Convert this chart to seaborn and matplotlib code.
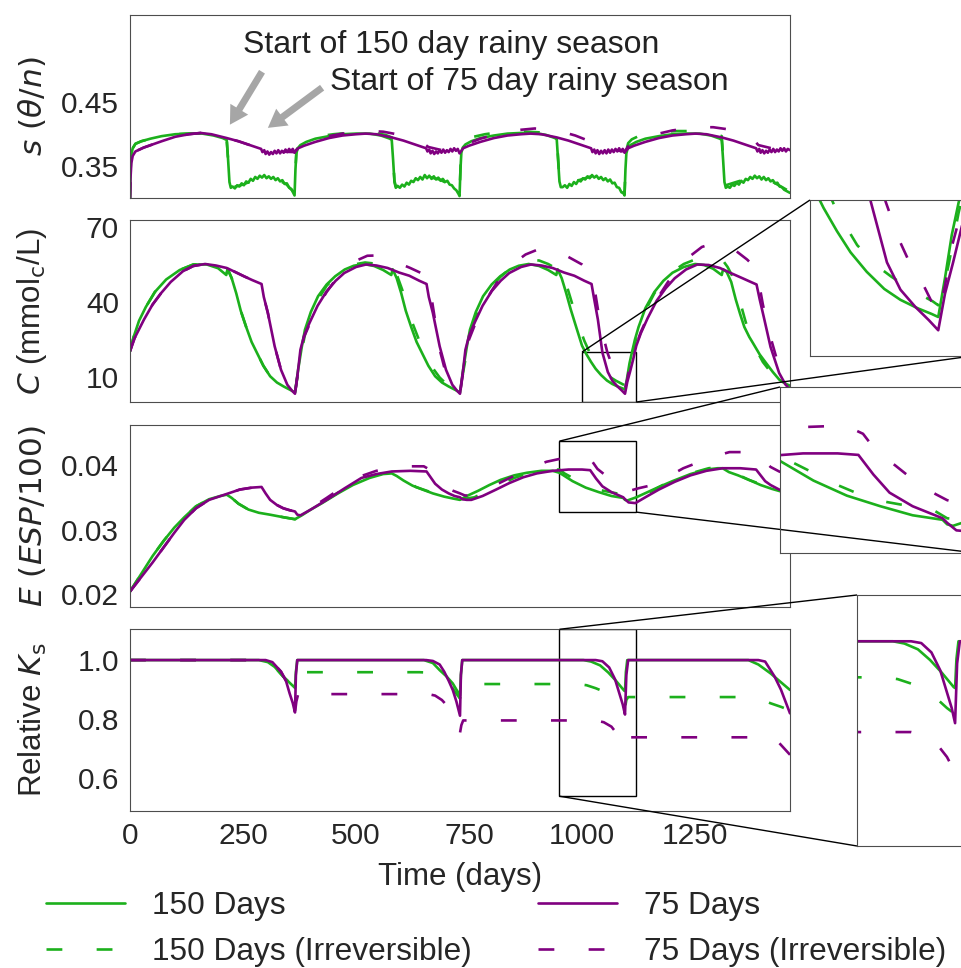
import matplotlib
matplotlib.use("Agg")
import matplotlib.pyplot as plt
import seaborn as sns
from mpl_toolkits.axes_grid1.inset_locator import mark_inset

# ---------------- relative saturation s ----------------
s_g_day = [0, 1, 3, 6, 12, 25, 45, 70, 100, 130, 160, 185, 205, 214, 217, 220, 223,
           227, 232, 237, 242, 247, 252, 257, 262, 267, 272, 277, 282, 287, 292, 297, 302,
           307, 312, 317, 322, 327, 332, 337, 342, 347, 352, 357, 362, 364,
           366, 368, 371, 377, 390, 410, 440, 470, 500, 530, 555, 575, 579, 582, 585, 588,
           592, 597, 602, 607, 612, 617, 622, 627, 632, 637, 642, 647, 652, 657, 662, 667,
           672, 677, 682, 687, 692, 697, 702, 707, 712, 717, 722, 727, 729,
           731, 733, 736, 742, 755, 775, 805, 835, 865, 895, 920, 940, 944, 947, 950, 953,
           957, 962, 967, 972, 977, 982, 987, 992, 997, 1002, 1007, 1012, 1017, 1022, 1027,
           1032, 1037, 1042, 1047, 1052, 1057, 1062, 1067, 1072, 1077, 1082, 1087, 1092, 1094,
           1096, 1098, 1101, 1107, 1120, 1140, 1170, 1200, 1230, 1260, 1285, 1305, 1309, 1312,
           1315, 1318,
           1322, 1327, 1332, 1337, 1342, 1347, 1352, 1357, 1362, 1367, 1372, 1377, 1382, 1387,
           1392, 1397, 1402, 1407, 1412, 1417, 1422, 1427, 1432, 1437, 1442, 1447, 1452, 1457, 1460]
s_g = [.300, .340, .368, .378, .385, .389, .393, .397, .400, .401, .401, .398, .394, .391, .360, .325, .316,
       .318, .315, .320, .318, .323, .320, .326, .324, .330, .327, .333, .330, .335, .332, .336, .331,
       .334, .330, .333, .328, .331, .326, .328, .322, .323, .316, .314, .307, .304,
       .345, .370, .378, .383, .388, .393, .397, .400, .401, .401, .398, .393, .391, .360, .325, .316,
       .319, .316, .321, .318, .324, .321, .327, .325, .331, .328, .333, .329, .336, .331, .335, .330,
       .334, .329, .332, .327, .330, .325, .327, .321, .320, .315, .312, .306, .303,
       .345, .371, .379, .384, .389, .394, .398, .401, .402, .402, .399, .394, .392, .360, .326, .317,
       .317, .320, .316, .322, .319, .325, .322, .328, .326, .331, .329, .334, .331, .336, .332,
       .335, .330, .333, .328, .331, .326, .329, .323, .324, .317, .316, .309, .307, .304,
       .345, .370, .378, .383, .388, .393, .397, .400, .401, .401, .398, .393, .391, .360,
       .325, .316,
       .318, .316, .321, .319, .324, .321, .327, .324, .330, .328, .333, .330, .335, .331,
       .334, .329, .333, .328, .331, .326, .328, .323, .324, .318, .317, .313, .311, .309, .308]

s_gi_day = [0, 1, 3, 6, 12, 25, 45, 70, 100, 130, 160, 185, 205, 214, 217, 220, 223, 250, 290, 320, 345, 360, 364,
            366, 368, 372, 380, 395, 420, 450, 480, 510, 540, 565, 579, 582, 585, 588, 615, 655, 685, 710, 725, 729,
            731, 733, 737, 745, 760, 785, 815, 845, 875, 905, 930, 944, 947, 950, 953, 980, 1020, 1050, 1075, 1090, 1094,
            1096, 1098, 1102, 1110, 1125, 1150, 1180, 1210, 1240, 1270, 1295, 1309, 1312, 1315, 1318, 1345, 1385, 1415, 1440, 1460]
s_gi = [.300, .340, .368, .378, .385, .389, .393, .397, .400, .401, .401, .398, .394, .391, .360, .325, .316, .321, .333, .331, .322, .311, .305,
        .345, .372, .382, .388, .393, .397, .400, .402, .403, .402, .399, .395, .362, .327, .318, .324, .334, .329, .320, .312, .305,
        .346, .374, .385, .391, .396, .400, .403, .404, .404, .403, .400, .396, .363, .328, .319, .325, .334, .329, .320, .312, .306,
        .347, .375, .386, .392, .397, .401, .404, .405, .405, .404, .401, .397, .364, .329, .320, .326, .334, .328, .318, .310]

s_p_day = [0, 1, 3, 6, 12, 30, 50, 70, 100, 130, 156, 180, 214, 240, 265, 290,
           293, 297, 300, 304, 308, 312, 316, 320, 324, 328, 332, 336, 340, 344, 348, 352, 356, 360, 364,
           366, 372, 385, 410, 440, 470, 500, 521, 545, 579, 605, 630, 655,
           658, 662, 665, 669, 673, 677, 681, 685, 689, 693, 697, 701, 705, 709, 713, 717, 721, 725, 729,
           731, 737, 750, 775, 805, 835, 865, 886, 910, 944, 970, 995, 1020,
           1023, 1027, 1030, 1034, 1038, 1042, 1046, 1050, 1054, 1058, 1062, 1066, 1070, 1074, 1078, 1082, 1086, 1090, 1094,
           1096, 1102, 1115, 1140, 1170, 1200, 1230, 1251, 1275, 1309, 1335, 1360, 1385,
           1388, 1392, 1395, 1399, 1403, 1407, 1411, 1415, 1419, 1423, 1427, 1431, 1435, 1439, 1443, 1447, 1451, 1455, 1460]
s_p = [.300, .330, .355, .366, .373, .379, .384, .389, .396, .400, .402, .400, .394, .389, .383, .377,
       .372, .375, .369, .373, .368, .372, .369, .374, .370, .375, .370, .374, .371, .376, .372, .377, .373, .377, .371,
       .373, .378, .382, .388, .394, .398, .400, .401, .400, .395, .390, .384, .378,
       .373, .376, .370, .374, .369, .373, .370, .375, .371, .376, .371, .375, .372, .377, .373, .378, .374, .377, .370,
       .372, .378, .382, .388, .394, .398, .400, .401, .400, .395, .390, .384, .378,
       .372, .376, .370, .375, .369, .374, .370, .375, .370, .376, .371, .376, .372, .377, .373, .378, .373, .377, .371,
       .373, .378, .382, .388, .394, .398, .400, .401, .400, .395, .390, .384, .378,
       .373, .377, .371, .375, .370, .374, .371, .376, .372, .377, .372, .376, .373, .378, .374, .378, .373, .377, .375]

s_pi_day = [0, 1, 3, 6, 12, 30, 50, 70, 100, 130, 156, 180, 214, 240, 265, 290, 320, 364,
            366, 372, 385, 410, 440, 470, 500, 530, 560, 590, 620, 645, 660, 690, 729,
            731, 737, 750, 775, 805, 835, 865, 895, 925, 955, 985, 1010, 1025, 1060, 1094,
            1096, 1102, 1115, 1140, 1170, 1200, 1230, 1260, 1290, 1320, 1350, 1375, 1390, 1425, 1460]
s_pi = [.300, .330, .355, .366, .373, .379, .384, .389, .396, .400, .402, .400, .394, .389, .383, .377, .373, .372,
        .374, .379, .384, .391, .397, .401, .404, .405, .404, .400, .394, .388, .380, .375, .373,
        .374, .380, .386, .393, .399, .404, .407, .409, .408, .404, .398, .391, .381, .376, .373,
        .375, .381, .388, .395, .401, .406, .409, .411, .411, .408, .402, .395, .383, .377, .376]

# ---------------- salt concentration C ----------------
c_g_day = [0, 8, 20, 35, 55, 80, 110, 140, 170, 195, 213, 216, 225, 235, 245, 257, 269, 281, 295, 310,
           325, 340, 355, 365,
           372, 380, 387, 400, 416, 435, 454, 475, 495, 517, 540, 560, 578, 581, 590, 600, 610, 622,
           634, 646, 660, 675, 690, 705, 720, 730,
           737, 745, 752, 765, 781, 800, 819, 840, 860, 882, 905, 925, 943, 946, 955, 965, 975, 987,
           1000, 1010, 1020, 1030, 1042, 1055, 1067, 1080, 1090, 1095,
           1100, 1105, 1110, 1117, 1125, 1140, 1160, 1180, 1200, 1225, 1250, 1270, 1290, 1305, 1309,
           1312, 1320, 1330, 1340, 1350, 1359, 1370, 1378, 1393, 1407, 1422, 1436, 1448, 1460]
c_g = [20.3, 26, 32.5, 38, 44, 49, 52.8, 55, 55, 53.5, 50.8, 53.2, 49.5, 43.5, 36.5, 30, 24, 19.6, 14.5, 10.3,
       7.8, 6.2, 4.8, 3.8,
       13, 22, 28.9, 36, 42.3, 47, 50.3, 53, 54.5, 55.2, 54.4, 52.8, 50.8, 53.1, 49.5, 43.5, 36.5, 30,
       24, 19.6, 14.5, 10.3, 7.8, 6.2, 4.8, 3.8,
       13, 22, 28.9, 36, 42.3, 47, 50.3, 53, 54.5, 55.2, 54.4, 52.8, 50.8, 53.1, 49.5, 43.5, 37, 30,
       22.5, 19, 16, 13.3, 10.8, 8.6, 7.2, 6.1, 5.4, 5.0,
       10, 15.5, 19.6, 25, 30, 37.5, 44, 48.5, 51.7, 54, 55.2, 54.8, 53.3, 51.3, 50.8,
       53.1, 52, 48, 41, 35, 30, 26, 23.6, 19, 15.6, 12, 9, 7.5, 6.5]

c_gi_day = c_g_day[:24] + [
    372, 380, 387, 400, 416, 435, 454, 475, 495, 520, 540, 560, 580, 584, 592, 602, 612, 625, 640, 655,
    670, 685, 700, 715, 730,
    737, 745, 752, 765, 781, 800, 819, 840, 860, 885, 905, 925, 945, 949, 957, 967, 977, 990, 1005, 1020,
    1035, 1050, 1060, 1075, 1091, 1095,
    1100, 1103, 1110, 1117, 1125, 1140, 1160, 1180, 1200, 1225, 1250, 1270, 1290, 1310, 1314, 1322, 1332,
    1342, 1352, 1362, 1372, 1385, 1400, 1415, 1430, 1445, 1460]
c_gi = c_g[:24] + [
    12, 20.5, 27, 34.5, 41, 46.5, 50, 53, 55, 55.8, 55.4, 54, 52, 53.5, 50, 45, 39, 31.5, 24.5, 18.5,
    13.5, 9.8, 7.2, 5.4, 4.2,
    12, 20, 26.5, 34, 40.5, 46, 50, 53.2, 55.5, 56.8, 56.6, 55.2, 53.2, 54.5, 51, 46, 40, 32, 24.5, 18.5,
    14.2, 11.5, 10.2, 8.5, 7.0, 6.5,
    9.5, 12, 18.3, 23.5, 29, 36.5, 43.5, 48.5, 52.2, 55.2, 57, 57.6, 57, 55, 56, 54, 50.5,
    45, 38.5, 32, 26.5, 21, 16, 12.5, 9.5, 7.5, 6.3]

c_p_day = [0, 10, 31, 50, 69, 90, 117, 140, 166, 190, 214, 235, 252, 270, 291, 296, 305, 320, 334, 348,
           358, 365,
           372, 377, 385, 397, 415, 435, 455, 474, 500, 522, 545, 570, 595, 618, 640, 656, 661, 670, 685,
           699, 713, 723, 730,
           737, 742, 750, 762, 780, 800, 820, 839, 865, 887, 910, 935, 960, 983, 1005, 1021, 1026, 1035,
           1045, 1057, 1067, 1078, 1088, 1095,
           1100, 1106, 1113, 1120, 1130, 1145, 1165, 1185, 1205, 1230, 1255, 1280, 1305, 1330, 1355, 1371,
           1386, 1393, 1402, 1417, 1436, 1450, 1460]
c_p = [20.3, 25.5, 33, 39, 43.6, 48, 52.3, 54.4, 55.2, 54.6, 53.6, 51.8, 50.3, 48.8, 47.2, 42, 35.6, 22.3, 12.9, 6.9,
       4.6, 3.3,
       13, 20.9, 26.5, 31.6, 38.5, 44.3, 48.5, 51.6, 54, 55, 54.6, 53.6, 51.8, 50.5, 48.5, 47.2, 42, 35.6, 22.3,
       12.9, 6.9, 4.6, 3.3,
       13, 20.9, 26.5, 31.6, 38.5, 44.3, 48.5, 51.6, 54, 55, 54.6, 53.6, 51.8, 50.5, 48.5, 47.2, 42, 33,
       19.8, 12, 8.5, 6.3, 4.6, 3.3,
       8, 12, 17, 22.5, 27.5, 33.5, 40.5, 45.5, 49.5, 53, 55, 54.8, 53.6, 51.5, 49.5, 48.2,
       47, 41, 34, 22, 11.6, 7, 5]

c_pi_day = c_p_day[:22] + [
    372, 377, 385, 397, 415, 435, 455, 474, 500, 525, 545, 570, 595, 620, 645, 660, 665, 672, 685, 695,
    705, 718, 730,
    737, 742, 750, 762, 780, 800, 820, 845, 875, 905, 930, 955, 980, 1000, 1012, 1021, 1028, 1036, 1046, 1056,
    1066, 1075, 1084, 1090, 1095,
    1100, 1105, 1112, 1120, 1130, 1145, 1165, 1190, 1215, 1240, 1265, 1290, 1315, 1340, 1365, 1385, 1392,
    1400, 1410, 1420, 1431, 1441, 1452, 1460]
c_pi = c_p[:22] + [
    12.5, 20, 26, 31, 38, 44, 49, 53, 56.5, 58.5, 58.6, 57.5, 55.5, 53.6, 51.5, 49.5, 44, 36, 21, 14,
    9.5, 5.8, 3.5,
    12, 19, 25, 30.5, 38, 44.5, 50, 55, 59, 61.2, 61, 59.5, 57, 55, 53, 51.5, 45, 36, 27, 19.8,
    14.9, 11.5, 9.1, 7, 5.5,
    9, 14, 18.5, 23, 28, 34, 41, 48, 54, 58.5, 62, 63.5, 62.5, 60.5, 57, 53.5, 47,
    39, 31, 24, 17, 11, 7, 5]

# ---------------- exchangeable sodium E ----------------
e_g_day = [0, 20, 50, 75, 98, 120, 146, 175, 200, 214, 225, 240, 262, 285, 310, 340, 365,
           380, 400, 425, 460, 493, 530, 560, 579, 590, 605, 625, 647, 670, 695, 715, 730,
           745, 770, 795, 820, 850, 878, 910, 935, 950, 979, 1008, 1037, 1065, 1091, 1095,
           1100, 1120, 1145, 1170, 1200, 1240, 1275, 1300, 1311, 1325, 1345, 1369, 1395, 1420, 1440, 1460]
e_g = [.0204, .0226, .0259, .0283, .0303, .0319, .0336, .0347, .0352, .0354, .0349, .0340, .0331, .0326, .0323, .0319, .0316,
       .0322, .0331, .0341, .0356, .0369, .0380, .0386, .0387, .0383, .0376, .0368, .0362, .0356, .0351, .0348, .0346,
       .0352, .0360, .0369, .0377, .0384, .0388, .0391, .0391, .0388, .0375, .0365, .0358, .0352, .0349, .0346,
       .0345, .0350, .0358, .0366, .0375, .0386, .0393, .0395, .0395, .0389, .0384, .0377, .0369, .0363, .0359, .0356]

e_gi_day = e_g_day[:17] + [
    380, 400, 425, 460, 493, 531, 560, 585, 595, 610, 632, 661, 690, 715, 733, 762,
    790, 820, 850, 880, 915, 950, 961, 987, 1000, 1028, 1041, 1070, 1084, 1095,
    1107, 1130, 1150, 1176, 1210, 1245, 1280, 1315, 1339, 1369, 1400, 1430, 1460]
e_gi = e_g[:17] + [
    .0322, .0331, .0342, .0357, .0371, .0382, .0387, .0389, .0386, .0379, .0366, .0359, .0353, .0349, .0347, .0350,
    .0360, .0370, .0380, .0387, .0392, .0393, .0387, .0377, .0372, .0363, .0361, .0357, .0355, .0350,
    .0349, .0352, .0358, .0368, .0379, .0388, .0395, .0398, .0387, .0377, .0369, .0363, .0359]

e_p_day = [0, 20, 50, 75, 98, 120, 146, 175, 209, 243, 270, 291, 300, 310, 325, 339, 353, 365, 370, 377,
           400, 435, 475, 512, 545, 579, 620, 656, 665, 675, 690, 705, 718, 730, 735, 745, 755,
           780, 810, 839, 870, 900, 935, 970, 1000, 1018, 1031, 1045, 1065, 1091, 1095, 1103, 1118,
           1140, 1170, 1205, 1240, 1275, 1311, 1350, 1385, 1395, 1405, 1417, 1436, 1460]
e_p = [.0204, .0222, .0249, .0273, .0295, .0315, .0333, .0346, .0354, .0362, .0365, .0366, .0356, .0346, .0338, .0333, .0330, .0328, .0323, .0322,
       .0331, .0346, .0364, .0380, .0386, .0390, .0391, .0390, .0381, .0371, .0362, .0356, .0352, .0350, .0347, .0346, .0346,
       .0352, .0362, .0372, .0381, .0387, .0391, .0393, .0393, .0392, .0379, .0367, .0358, .0350, .0347, .0342, .0341,
       .0350, .0362, .0374, .0384, .0391, .0395, .0395, .0393, .0384, .0375, .0369, .0362, .0356]

e_pi_day = e_p_day[:20] + [
    400, 435, 475, 512, 545, 579, 620, 650, 660, 670, 685, 700, 715, 730, 740, 755,
    780, 817, 846, 880, 921, 954, 990, 1008, 1022, 1034, 1050, 1068, 1085, 1095, 1105, 1125,
    1156, 1190, 1224, 1253, 1290, 1326, 1360, 1388, 1400, 1417, 1436, 1460]
e_pi = e_p[:20] + [
    .0333, .0349, .0368, .0383, .0391, .0395, .0398, .0398, .0394, .0384, .0373, .0365, .0360, .0356, .0353, .0352,
    .0360, .0372, .0382, .0393, .0405, .0410, .0411, .0411, .0406, .0394, .0385, .0374, .0366, .0362, .0360, .0364,
    .0369, .0382, .0395, .0403, .0413, .0420, .0420, .0418, .0408, .0397, .0390, .0384]

# ---------------- relative Ks ----------------
k_g_day = [0, 285, 305, 320, 339, 352, 365, 367, 370,
           650, 670, 685, 700, 714, 730, 732, 735,
           1003, 1020, 1040, 1058, 1075, 1093, 1095, 1097, 1100,
           1368, 1390, 1417, 1440, 1460]
k_g = [1.0, 1.0, .993, .977, .944, .925, .906, .96, 1.0,
       1.0, .990, .966, .945, .921, .880, .95, 1.0,
       1.0, .995, .982, .958, .930, .897, .895, .96, 1.0,
       1.0, .985, .955, .925, .899]

k_gi_day = [0, 285, 305, 320, 339, 352, 365, 368, 372,
            640, 670, 690, 705, 718, 730, 733, 737,
            990, 1010, 1030, 1046, 1065, 1083, 1090, 1095, 1098, 1102,
            1370, 1395, 1417, 1440, 1460]
k_gi = [1.0, 1.0, .993, .977, .944, .925, .906, .94, .959,
        .959, .957, .945, .925, .895, .870, .905, .919,
        .919, .915, .905, .895, .875, .850, .842, .838, .865, .875,
        .875, .868, .854, .842, .830]

k_p_day = [0, 300, 315, 334, 345, 353, 360, 365, 367, 370,
           655, 670, 685, 695, 705, 714, 722, 730, 732, 735,
           1030, 1045, 1060, 1073, 1082, 1090, 1095, 1098, 1102,
           1390, 1405, 1426, 1440, 1450, 1460]
k_p = [1.0, 1.0, .993, .961, .930, .888, .855, .823, .95, 1.0,
       1.0, .997, .985, .961, .930, .899, .86, .812, .95, 1.0,
       1.0, .996, .975, .935, .890, .850, .816, .95, 1.0,
       1.0, .995, .944, .900, .86, .82]

k_pi_day = [0, 300, 315, 334, 345, 353, 360, 365, 368, 372,
            660, 675, 690, 705, 718, 730, 733, 737,
            1030, 1048, 1065, 1083, 1095, 1098, 1102,
            1410, 1425, 1436, 1448, 1460]
k_pi = [1.0, 1.0, .993, .961, .930, .888, .855, .823, .86, .885,
        .885, .880, .865, .840, .800, .754, .780, .796,
        .796, .790, .775, .740, .705, .725, .739,
        .739, .736, .720, .700, .680]

labels = ["150 Days", "150 Days (Irreversible)", "75 Days", "75 Days (Irreversible)"]
x_ticks = [0, 250, 500, 750, 1000, 1250]

GREEN = "#1cb01c"
PURPLE = "#800080"
LW = 1.9
DASH = (0, (6, 13))

sns.set_style("white", {"axes.edgecolor": "0.3"})
plt.rcParams['font.family'] = ['Liberation Sans', 'DejaVu Sans']
plt.rcParams['mathtext.fontset'] = 'dejavusans'

fig = plt.figure(figsize=(9.61, 9.68), dpi=100)
W, H = 961, 968


def box(l, t, r, b):
    return [l / W, 1 - b / H, (r - l) / W, (b - t) / H]


def draw(ax, series):
    styles = [(GREEN, "-"), (GREEN, DASH), (PURPLE, "-"), (PURPLE, DASH)]
    for (d, v), (col, ls), lab in zip(series, styles, labels):
        sns.lineplot(x=d, y=v, ax=ax, color=col, linestyle=ls, linewidth=LW,
                     estimator=None, legend=False, label=lab)


s_series = [(s_g_day, s_g), (s_gi_day, s_gi), (s_p_day, s_p), (s_pi_day, s_pi)]
c_series = [(c_g_day, c_g), (c_gi_day, c_gi), (c_p_day, c_p), (c_pi_day, c_pi)]
e_series = [(e_g_day, e_g), (e_gi_day, e_gi), (e_p_day, e_p), (e_pi_day, e_pi)]
k_series = [(k_g_day, k_g), (k_gi_day, k_gi), (k_p_day, k_p), (k_pi_day, k_pi)]

ax_s = fig.add_axes(box(130, 15, 790, 198))
ax_c = fig.add_axes(box(130, 220, 790, 402))
ax_e = fig.add_axes(box(130, 425, 790, 607))
ax_k = fig.add_axes(box(130, 629, 790, 811))

panels = [
    (ax_s, s_series, (0.30, 0.587), [0.35, 0.45], r"$s\ (\theta/n)$"),
    (ax_c, c_series, (0, 72.8), [10, 40, 70], r"$C$ (mmol$_\mathrm{c}$/L)"),
    (ax_e, e_series, (0.018, 0.0462), [0.02, 0.03, 0.04], r"$E\ (ESP/100)$"),
    (ax_k, k_series, (0.49, 1.105), [0.6, 0.8, 1.0], r"Relative $K_\mathrm{s}$"),
]
for ax, series, ylim, yt, ylab in panels:
    draw(ax, series)
    ax.set_xlim(0, 1460)
    ax.set_ylim(*ylim)
    ax.set_xticks(x_ticks)
    ax.set_yticks(yt)
    ax.tick_params(length=0, labelsize=21.5, pad=8)
    ax.set_ylabel(ylab, fontsize=22.5)
    ax.yaxis.set_label_coords(-0.122, 0.5)
    ax.set_xlabel("")
    if ax is not ax_k:
        ax.tick_params(labelbottom=False)

ax_k.set_xlabel("Time (days)", fontsize=22.5)
ax_k.xaxis.set_label_coords(0.5, -0.28)

# annotations on the saturation panel
arrow = dict(facecolor="#a6a6a6", edgecolor="none", width=5, headwidth=15, headlength=13, shrink=0)
ax_s.annotate("", xy=(221, 0.415), xytext=(292, 0.498), arrowprops=arrow)
ax_s.annotate("", xy=(305, 0.410), xytext=(425, 0.473), arrowprops=arrow)
ax_s.text(250, 0.540, "Start of 150 day rainy season", fontsize=23, color="#222222", ha="left", va="center")
ax_s.text(442, 0.482, "Start of 75 day rainy season", fontsize=23, color="#222222", ha="left", va="center")

# zoomed insets
insets = [
    (ax_c, c_series, box(810, 200, 972, 356), (1000, 1120), (0, 20), 2, 4),
    (ax_e, e_series, box(780, 387, 976, 553), (950, 1120), (0.0327, 0.0437), 2, 4),
    (ax_k, k_series, box(857, 595, 972, 846), (950, 1120), (0.54, 1.104), 2, 3),
]
for parent, series, pos, xl, yl, l1, l2 in insets:
    axin = fig.add_axes(pos)
    draw(axin, series)
    axin.set_xlim(*xl)
    axin.set_ylim(*yl)
    axin.set_xticks([])
    axin.set_yticks([])
    axin.set_xlabel("")
    axin.set_ylabel("")
    mark_inset(parent, axin, loc1=l1, loc2=l2, fc="none", ec="k", lw=1.0)

handles, labs = ax_k.get_legend_handles_labels()
fig.legend(handles, labs, loc="upper left", bbox_to_anchor=(46 / W, 1 - 891 / H), ncol=2,
           frameon=False, fontsize=22.8, handlelength=2.5, handletextpad=0.85,
           columnspacing=2.1, labelspacing=0.5, borderpad=0, borderaxespad=0)

fig.savefig("out.png", dpi=100)
